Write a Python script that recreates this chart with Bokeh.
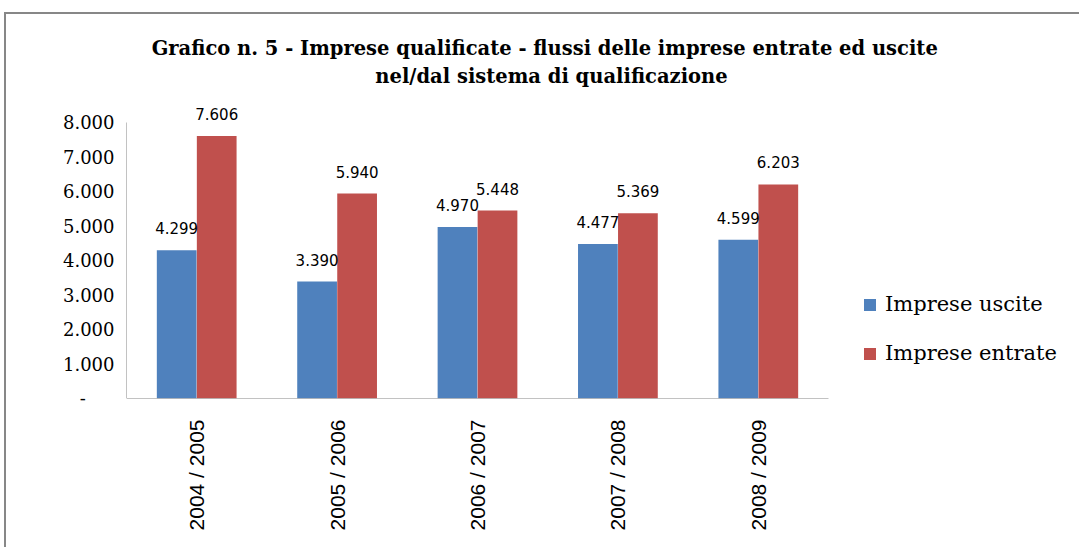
import math
from bokeh.plotting import figure
from bokeh.models import (ColumnDataSource, Range1d, Label, LabelSet,
                          Legend, LegendItem, FixedTicker)
from bokeh.core.properties import value
from bokeh.embed import file_html
from bokeh.resources import INLINE

# ---- data ----
categories = ["2004 / 2005", "2005 / 2006", "2006 / 2007", "2007 / 2008", "2008 / 2009"]
uscite = [4299, 3390, 4970, 4477, 4599]
entrate = [7606, 5940, 5448, 5369, 6203]
series_names = ["Imprese uscite", "Imprese entrate"]
series_colors = ["#4F81BD", "#C0504D"]
y_ticks = [0, 1000, 2000, 3000, 4000, 5000, 6000, 7000, 8000]
title_lines = ["Grafico  n. 5 - Imprese qualificate  - flussi delle imprese entrate ed uscite",
               "nel/dal sistema di qualificazione"]


def fmt(v):
    return f"{v:,}".replace(",", ".")


idx = list(range(len(categories)))
off = 0.1425
source = ColumnDataSource(dict(
    xu=[i - off for i in idx],
    xe=[i + off for i in idx],
    uscite=uscite,
    entrate=entrate,
    lab_u=[fmt(v) for v in uscite],
    lab_e=[fmt(v) for v in entrate],
))

# layout (pixels)
W, H = 1075, 535
LEFT = 120                 # frame left
AXIS_PX = 276              # pixel height of 0..8000
PLOT_PX_H = 384            # frame height (top of canvas to x axis)
PX_PER_CAT = 140.4
FRAME_W = W - LEFT
y_max = y_ticks[-1]
y_end = y_max * PLOT_PX_H / AXIS_PX
x_start = -0.5
x_end = x_start + FRAME_W / PX_PER_CAT

p = figure(x_range=Range1d(x_start, x_end), y_range=Range1d(0, y_end),
           width=W, height=H, output_backend="svg", toolbar_location=None,
           min_border_left=LEFT, min_border_top=0,
           min_border_right=0, min_border_bottom=H - PLOT_PX_H)
p.margin = (12, 0, 0, 4)
p.styles = {"border-left": "2px solid #878787", "border-top": "2px solid #878787"}
p.outline_line_color = None
p.xgrid.grid_line_color = None
p.ygrid.grid_line_color = None
p.background_fill_color = "white"
p.border_fill_color = "white"

bw = 0.283
r1 = p.vbar(x="xu", top="uscite", width=bw, source=source,
            fill_color=series_colors[0], line_color=None)
r2 = p.vbar(x="xe", top="entrate", width=bw, source=source,
            fill_color=series_colors[1], line_color=None)

# axis lines drawn only over the chart extent
p.segment(x0=[x_start], y0=[0], x1=[x_start], y1=[y_max], line_color="#868686", line_width=1)
p.segment(x0=[x_start], y0=[0], x1=[len(categories) - 0.5], y1=[0], line_color="#868686", line_width=1)

for xcol, col, lab in (("xu", "uscite", "lab_u"), ("xe", "entrate", "lab_e")):
    ls = LabelSet(x=xcol, y=col, text=lab, source=source,
                  y_offset=22, text_align="center", text_baseline="middle",
                  text_font=value("DejaVu Sans"), text_font_size=value("15px"),
                  text_color="#000000")
    p.add_layout(ls)

# axes
p.yaxis.ticker = FixedTicker(ticks=y_ticks)
overrides = {t: fmt(t) for t in y_ticks}
overrides[0] = "-\u00a0\u00a0\u00a0\u00a0\u00a0"
p.yaxis.major_label_overrides = overrides
p.yaxis.major_label_text_font = "DejaVu Serif"
p.yaxis.major_label_text_font_size = "18px"
p.yaxis.major_label_text_color = "#000000"
p.yaxis.major_label_standoff = 12
p.yaxis.major_tick_out = 0
p.yaxis.major_tick_in = 0
p.yaxis.major_tick_line_color = None
p.yaxis.minor_tick_line_color = None
p.yaxis.axis_line_color = None

p.xaxis.ticker = FixedTicker(ticks=idx)
p.xaxis.major_label_overrides = {i: c for i, c in zip(idx, categories)}
p.xaxis.major_label_orientation = math.pi / 2
p.xaxis.major_label_text_font = "Liberation Sans"
p.xaxis.major_label_text_font_size = "21px"
p.xaxis.major_label_text_color = "#000000"
p.xaxis.major_label_standoff = 21
p.xaxis.major_tick_out = 0
p.xaxis.major_tick_in = 0
p.xaxis.major_tick_line_color = None
p.xaxis.minor_tick_line_color = None
p.xaxis.axis_line_color = None

# title
for i, line in enumerate(title_lines):
    p.add_layout(Label(x=425, y=350 - 28 * i, x_units="screen", y_units="screen",
                       text=line, text_align="center", text_baseline="middle",
                       text_font="DejaVu Serif", text_font_style="bold",
                       text_font_size="19.5px", text_color="#000000"))

legend = Legend(items=[LegendItem(label=series_names[0], renderers=[r1]),
                       LegendItem(label=series_names[1], renderers=[r2])],
                location=(736, 33), orientation="vertical",
                border_line_color=None, background_fill_alpha=0,
                padding=0, margin=0, spacing=25,
                glyph_width=15, glyph_height=15, label_height=24,
                label_standoff=8,
                label_text_font="DejaVu Serif", label_text_font_size="21px",
                label_text_color="#000000")
p.add_layout(legend)

open("out.html", "w").write(file_html(p, INLINE))
